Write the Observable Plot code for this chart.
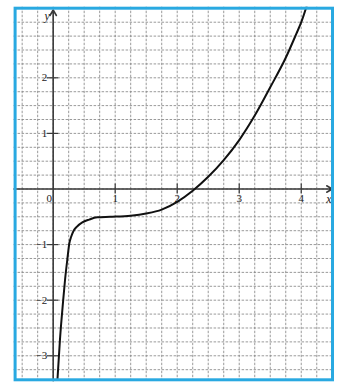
<!DOCTYPE html>
<html>
<head>
<meta charset="utf-8">
<script src="https://cdn.jsdelivr.net/npm/d3@7"></script>
<script src="https://cdn.jsdelivr.net/npm/@observablehq/plot@0.6"></script>
<style>
  html, body { margin: 0; padding: 0; background: #fff; }
  #chart svg { display: block; }
</style>
</head>
<body>
<div id="chart"></div>
<script>
// Curve points
const curveX = [0.065, 0.11, 0.16, 0.19, 0.23, 0.26, 0.29, 0.33, 0.38, 0.47, 0.58, 0.71, 0.92, 1.25, 1.5, 1.75, 2.0, 2.25, 2.5, 2.75, 3.0, 3.25, 3.5, 3.75, 3.92, 4.0, 4.09];
const curveY = [-3.5, -2.7, -2.02, -1.65, -1.25, -0.98, -0.86, -0.75, -0.68, -0.60, -0.55, -0.51, -0.50, -0.48, -0.44, -0.37, -0.23, -0.03, 0.22, 0.52, 0.88, 1.32, 1.83, 2.36, 2.79, 3.0, 3.3];

// Axis ticks and labels
const xTicks = [1, 2, 3, 4];
const xTickLabels = ["1", "2", "3", "4"];
const yTicks = [-3, -2, -1, 1, 2];
const yTickLabels = ["−3", "−2", "−1", "1", "2"];

const curve = curveX.map((x, i) => ({x, y: curveY[i]}));
const gridX = d3.range(-0.5, 4.26, 0.25);
const gridY = d3.range(-3.25, 3.01, 0.25);

const xMin = -0.63, xMax = 4.52, yMin = -3.45, yMax = 3.27;
const font = "'Liberation Serif', 'DejaVu Serif', serif";

const chart = Plot.plot({
  width: 348,
  height: 390,
  marginLeft: 13.6,
  marginRight: 15,
  marginTop: 6.7,
  marginBottom: 9.7,
  x: {domain: [xMin, xMax], axis: null},
  y: {domain: [yMin, yMax], axis: null},
  style: {fontFamily: font, background: "#fff", fontSize: "11px"},
  marks: [
    Plot.ruleX(gridX, {x: d => d, stroke: "#808080", strokeWidth: 0.8, strokeDasharray: "2.5,1.5"}),
    Plot.ruleY(gridY, {y: d => d, stroke: "#808080", strokeWidth: 0.8, strokeDasharray: "2.5,1.5"}),
    Plot.arrow([{x1: xMin, y1: 0, x2: 4.5, y2: 0}], {x1: "x1", y1: "y1", x2: "x2", y2: "y2", stroke: "#3a3a3a", strokeWidth: 1.6, headLength: 6}),
    Plot.arrow([{x1: 0, y1: yMin, x2: 0, y2: 3.22}], {x1: "x1", y1: "y1", x2: "x2", y2: "y2", stroke: "#3a3a3a", strokeWidth: 1.6, headLength: 6}),
    Plot.ruleX(xTicks, {x: d => d, y1: -0.09, y2: 0.09, stroke: "#3a3a3a", strokeWidth: 1.2}),
    Plot.ruleY(yTicks, {y: d => d, x1: -0.09, x2: 0.09, stroke: "#3a3a3a", strokeWidth: 1.2}),
    Plot.text(xTicks, {x: d => d, y: 0, dy: 9, text: (d, i) => xTickLabels[i], fontSize: 11, fill: "#222"}),
    Plot.text(["0"], {x: 0, y: 0, dx: -4, dy: 9, text: d => d, fontSize: 11, fill: "#222"}),
    Plot.text(yTicks, {x: 0, y: d => d, dx: -6, text: (d, i) => yTickLabels[i], textAnchor: "end", fontSize: 11, fill: "#222"}),
    Plot.text(["x"], {x: 4.48, y: 0, dx: -2, dy: 10, text: d => d, fontSize: 12, fontStyle: "italic", fill: "#222"}),
    Plot.text(["y"], {x: 0, y: 3.15, dx: -6, dy: 2, text: d => d, fontSize: 12, fontStyle: "italic", fill: "#222"}),
    Plot.line(curve, {x: "x", y: "y", curve: "monotone-x", stroke: "#111", strokeWidth: 2, clip: true}),
    Plot.frame({stroke: "#29a9e1", strokeWidth: 3, inset: 1})
  ]
});
document.getElementById("chart").appendChild(chart);
</script>
</body>
</html>
